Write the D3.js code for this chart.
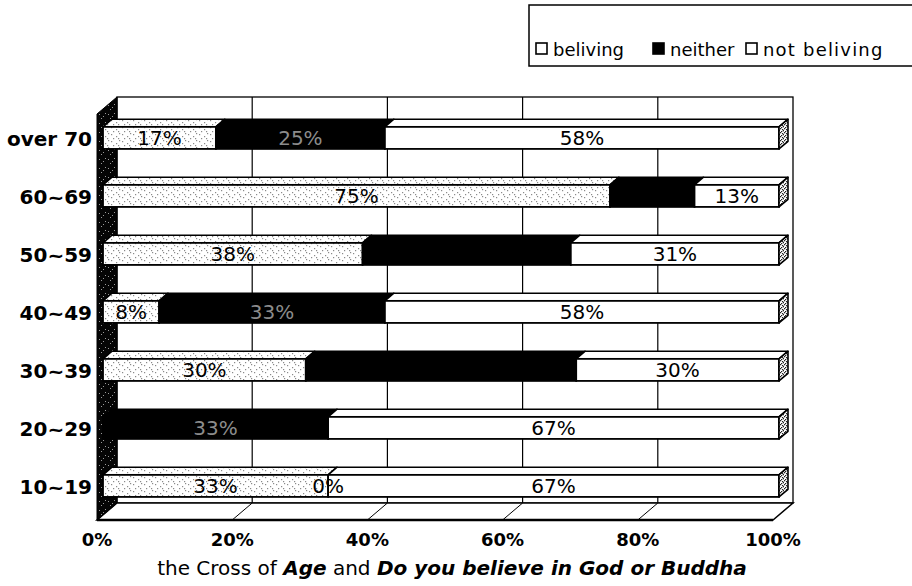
<!DOCTYPE html>
<html>
<head>
<meta charset="utf-8">
<script src="https://cdn.jsdelivr.net/npm/d3@7"></script>
<style>
  html, body { margin: 0; padding: 0; background: #fff; }
  svg { display: block; }
</style>
</head>
<body>
<svg id="chart" width="912" height="586"></svg>
<script>
// Age groups, top row first
const categories = ["over 70", "60~69", "50~59", "40~49", "30~39", "20~29", "10~19"];
const seriesNames = ["beliving", "neither", "not beliving"];
// Share of each answer per age group (%)
const beliving    = [16.7, 75.0, 38.4,  8.3, 30.0,  0.0, 33.3];
const neither     = [25.0, 12.5, 30.8, 33.4, 40.0, 33.3,  0.0];
const notBeliving = [58.3, 12.5, 30.8, 58.3, 30.0, 66.7, 66.7];
const tickValues  = [0, 20, 40, 60, 80, 100];
// Segments whose value label is not printed
const unlabelled = [["60~69", "neither"], ["50~59", "neither"], ["30~39", "neither"], ["20~29", "beliving"]];
const titleParts = [
  { text: "the Cross of ", bold: false },
  { text: "Age", bold: true },
  { text: " and ", bold: false },
  { text: "Do you believe in God or Buddha", bold: true }
];

const svg = d3.select("#chart");
const defs = svg.append("defs");

// stippled fill used for the "beliving" series
const stip = defs.append("pattern").attr("id", "stipple")
  .attr("patternUnits", "userSpaceOnUse").attr("width", 11).attr("height", 7);
stip.append("rect").attr("width", 11).attr("height", 7).attr("fill", "#fff");
[[1,1],[6,3],[3,5],[9,0],[8,5]].forEach(([px, py]) =>
  stip.append("rect").attr("x", px).attr("y", py).attr("width", 1.2).attr("height", 1.2).attr("fill", "#8a8a8a"));

// speckled black for the side wall
const wall = defs.append("pattern").attr("id", "wallfill")
  .attr("patternUnits", "userSpaceOnUse").attr("width", 9).attr("height", 9);
wall.append("rect").attr("width", 9).attr("height", 9).attr("fill", "#050505");
[[2,1],[6,5],[4,8],[0,6]].forEach(([px, py]) =>
  wall.append("rect").attr("x", px).attr("y", py).attr("width", 1).attr("height", 1).attr("fill", "#9a9a9a"));

// grey speckle for the bar end faces
const cap = defs.append("pattern").attr("id", "capfill")
  .attr("patternUnits", "userSpaceOnUse").attr("width", 4).attr("height", 4);
cap.append("rect").attr("width", 4).attr("height", 4).attr("fill", "#fff");
[[0,0],[2,1],[1,3],[3,2]].forEach(([px, py]) =>
  cap.append("rect").attr("x", px).attr("y", py).attr("width", 1.3).attr("height", 1.3).attr("fill", "#222"));

// 3-D projection: front plane + depth vector
const depth = { dx: 20, dy: -17 };
const x = d3.scaleLinear().domain([0, 100]).range([97, 773]);
const y = d3.scaleBand().domain(categories).range([114, 520]).paddingInner(0.62).paddingOuter(0.31);
const d0 = 0.3, d1 = 0.75;   // bar front/back depth fractions
const off = d => [depth.dx * d, depth.dy * d];

const yTop = y.range()[0], yBot = y.range()[1];
const xL = x.range()[0], xR = x.range()[1];
const line = d3.line();
const FONT = "'DejaVu Sans', sans-serif";

// back wall
const backG = svg.append("g");
backG.append("rect")
  .attr("x", xL + depth.dx).attr("y", yTop + depth.dy)
  .attr("width", xR - xL).attr("height", yBot - yTop)
  .attr("fill", "#fff").attr("stroke", "#000").attr("stroke-width", 1.3);
backG.selectAll("line.grid").data(tickValues.slice(1, -1)).join("line")
  .attr("x1", d => x(d) + depth.dx).attr("x2", d => x(d) + depth.dx)
  .attr("y1", yTop + depth.dy).attr("y2", yBot + depth.dy)
  .attr("stroke", "#000").attr("stroke-width", 1.2);

// floor
svg.append("path")
  .attr("d", line([[xL, yBot], [xR, yBot], [xR + depth.dx, yBot + depth.dy], [xL + depth.dx, yBot + depth.dy]]) + "Z")
  .attr("fill", "#fff").attr("stroke", "#000").attr("stroke-width", 1.5);
svg.append("line").attr("x1", xL).attr("x2", xR).attr("y1", yBot).attr("y2", yBot)
  .attr("stroke", "#000").attr("stroke-width", 2.5);
svg.selectAll("line.ftick").data(tickValues.slice(1, -1)).join("line")
  .attr("x1", d => x(d) + depth.dx).attr("y1", yBot + depth.dy)
  .attr("x2", d => x(d)).attr("y2", yBot)
  .attr("stroke", "#000").attr("stroke-width", 1);

// left side wall
svg.append("path")
  .attr("d", line([[xL, yTop], [xL + depth.dx, yTop + depth.dy], [xL + depth.dx, yBot + depth.dy], [xL, yBot]]) + "Z")
  .attr("fill", "url(#wallfill)").attr("stroke", "#000").attr("stroke-width", 1);

// stacked data
const rows = categories.map((c, i) => ({ cat: c, beliving: beliving[i], neither: neither[i], "not beliving": notBeliving[i] }));
const stacked = d3.stack().keys(seriesNames)(rows);
const fills = { "beliving": "url(#stipple)", "neither": "#000", "not beliving": "#fff" };

const [fx, fy] = off(d0), [bx, by] = off(d1);
const bw = y.bandwidth();
const barsG = svg.append("g");

categories.forEach((cat, ci) => {
  const g = barsG.append("g");
  const top = y(cat);
  stacked.forEach(layer => {
    const seg = layer[ci];
    const a = x(seg[0]), b = x(seg[1]);
    if (seg[1] - seg[0] <= 0) return;
    // top face
    g.append("path")
      .attr("d", line([[a + fx, top + fy], [b + fx, top + fy], [b + bx, top + by], [a + bx, top + by]]) + "Z")
      .attr("fill", fills[layer.key]).attr("stroke", "#000").attr("stroke-width", 1.6).attr("stroke-linejoin", "round");
    // front face
    g.append("rect")
      .attr("x", a + fx).attr("y", top + fy).attr("width", b - a).attr("height", bw)
      .attr("fill", fills[layer.key]).attr("stroke", "#000").attr("stroke-width", 1.8);
  });
  // right end face of the stack
  const end = x(100);
  g.append("path")
    .attr("d", line([[end + fx, top + fy], [end + bx, top + by], [end + bx, top + by + bw], [end + fx, top + fy + bw]]) + "Z")
    .attr("fill", "url(#capfill)").attr("stroke", "#000").attr("stroke-width", 1.6).attr("stroke-linejoin", "round");
  // value labels
  stacked.forEach(layer => {
    const seg = layer[ci];
    if (unlabelled.some(([c, k]) => c === cat && k === layer.key)) return;
    const v = seg[1] - seg[0];
    const onBlack = layer.key === "neither" && v > 0;
    g.append("text")
      .attr("x", (x(seg[0]) + x(seg[1])) / 2 + fx)
      .attr("y", top + fy + bw / 2 + 7.5)
      .attr("text-anchor", "middle")
      .attr("font-family", FONT)
      .attr("font-size", 20)
      .attr("fill", onBlack ? "#8c8c8c" : "#000")
      .text(Math.round(v) + "%");
  });
});

// category labels
svg.selectAll("text.cat").data(categories).join("text")
  .attr("x", 92).attr("y", d => y(d) + fy + bw / 2 + 8)
  .attr("text-anchor", "end")
  .attr("font-family", FONT).attr("font-weight", "bold")
  .attr("font-size", 20).attr("fill", "#000")
  .text(d => d);

// value axis tick labels
svg.selectAll("text.tick").data(tickValues).join("text")
  .attr("x", d => x(d)).attr("y", 546)
  .attr("text-anchor", "middle")
  .attr("font-family", FONT).attr("font-weight", "bold")
  .attr("font-size", 18).attr("fill", "#000")
  .text(d => d + "%");

// axis title
const title = svg.append("text")
  .attr("x", 452).attr("y", 575).attr("text-anchor", "middle")
  .attr("font-family", FONT).attr("font-size", 20).attr("fill", "#000");
title.selectAll("tspan").data(titleParts).join("tspan")
  .attr("font-weight", d => d.bold ? "bold" : "normal")
  .attr("font-style", d => d.bold ? "italic" : "normal")
  .text(d => d.text);

// legend
const legend = svg.append("g");
legend.append("rect").attr("x", 529).attr("y", 5).attr("width", 400).attr("height", 61)
  .attr("fill", "none").attr("stroke", "#000").attr("stroke-width", 1.5);
const legendX = [536, 653, 746];
const legendSwatch = { "beliving": "#fff", "neither": "#000", "not beliving": "#fff" };
seriesNames.forEach((s, i) => {
  legend.append("rect").attr("x", legendX[i]).attr("y", 43).attr("width", 11).attr("height", 11)
    .attr("fill", legendSwatch[s]).attr("stroke", "#000").attr("stroke-width", 1.6);
  legend.append("text").attr("x", legendX[i] + 17).attr("y", 56)
    .attr("font-family", FONT).attr("font-size", 18).attr("fill", "#000")
    .attr("letter-spacing", i === 2 ? 1.2 : 0)
    .text(s);
});
</script>
</body>
</html>
